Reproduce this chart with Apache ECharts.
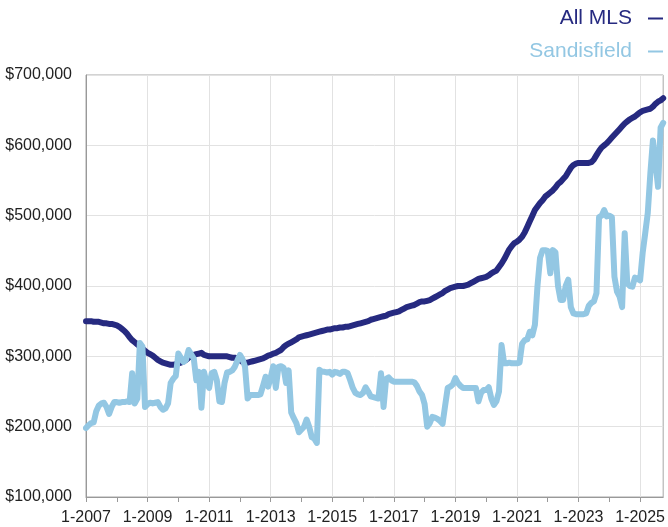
<!DOCTYPE html>
<html>
<head>
<meta charset="utf-8">
<script src="https://cdn.jsdelivr.net/npm/echarts@6/dist/echarts.min.js"></script>
<style>
html,body{margin:0;padding:0;background:#fff;}
#chart{width:668px;height:527px;}
</style>
</head>
<body>
<div id="chart"></div>
<script>
// Monthly series from Jan 2007 to Oct 2025 (values in $ thousands)
const startYear = 2007;
const monthCount = 226;

const allMLS = [
350,350,350,349,349,349,348,347,347,346,346,345,
344,342,339,336,332,327,323,320,317,314,311,308,
305,303,301,298,295,293,291,290,289,288,288,289,
290,291,293,295,298,300,302,303,304,305,302,301,
300,300,300,300,300,300,300,300,299,298,298,297,
295,292,291,291,292,293,294,295,296,297,299,301,
302,304,305,307,309,313,316,318,320,322,324,327,
328,329,330,331,332,333,334,335,336,337,338,338,
339,340,340,341,341,342,342,343,344,345,346,347,
348,349,350,352,353,354,355,356,357,358,360,361,
362,363,364,366,368,370,371,372,373,375,377,378,
378,379,380,382,384,386,388,390,393,395,397,398,
399,400,400,400,401,402,404,406,408,410,411,412,
413,415,418,420,422,427,432,438,445,452,457,461,
463,466,470,476,484,492,500,508,513,518,522,527,
530,533,536,540,545,548,552,556,562,568,572,574,
575,575,575,575,575,576,580,586,592,597,600,603,
607,611,615,619,623,627,631,634,637,639,641,644,
647,649,650,651,652,655,659,662,664,667
];

const sandisfield = [
198,202,205,206,222,230,233,234,228,218,228,235,
235,234,235,235,236,235,276,233,240,319,314,228,
232,234,233,234,235,228,224,226,233,262,268,272,
304,298,292,295,309,303,297,266,278,227,278,262,
255,276,278,266,236,235,262,277,278,280,285,294,
302,296,285,240,245,245,245,245,246,258,271,257,
270,286,255,285,286,284,262,280,220,212,205,192,
196,200,210,200,185,183,177,281,278,278,277,278,
274,278,277,275,278,278,276,266,255,248,246,245,
248,256,250,243,242,241,240,276,228,268,270,266,
264,264,264,264,264,264,264,264,263,258,250,245,
232,200,205,214,213,211,208,204,230,255,257,260,
269,262,258,255,255,255,255,255,255,236,248,252,
252,256,240,231,236,250,316,290,290,291,290,290,
290,291,318,323,324,335,330,345,400,440,451,451,
450,418,451,448,400,380,380,400,409,370,361,360,
360,360,360,361,372,376,378,390,498,500,508,499,
500,498,413,392,385,370,475,404,400,399,412,410,
408,447,475,504,560,607,575,541,625,632
];

const yTicks = [100000,200000,300000,400000,500000,600000,700000];
const seriesNames = ['All MLS','Sandisfield'];

const categories = [];
for (let i = 0; i < monthCount; i++) {
  const y = startYear + Math.floor(i / 12);
  const m = (i % 12) + 1;
  categories.push(m + '-' + y);
}

const NAVY = '#262a80';
const LIGHT = '#93c7e3';
const FONT = '"Liberation Sans", Arial, Helvetica, sans-serif';

const chart = echarts.init(document.getElementById('chart'), null, {renderer:'canvas'});
chart.setOption({
  animation: false,
  backgroundColor: '#ffffff',
  textStyle: {fontFamily: FONT},
  legend: {
    orient: 'vertical',
    right: 0,
    top: 3,
    align: 'right',
    itemWidth: 15,
    itemHeight: 2,
    itemGap: 12,
    icon: 'rect',
    selectedMode: false,
    textStyle: {fontSize: 21, fontFamily: FONT, padding: [0, 11, 0, 0]},
    data: [
      {name: seriesNames[0], textStyle: {color: NAVY}},
      {name: seriesNames[1], textStyle: {color: LIGHT}}
    ]
  },
  grid: {
    left: 86, right: 0, top: 75, bottom: 30,
    show: true, borderColor: '#a6a6a6', borderWidth: 1, containLabel: false
  },
  xAxis: {
    type: 'category',
    data: categories,
    boundaryGap: false,
    axisLine: {show: true, lineStyle: {color: '#999999', width: 1}},
    axisTick: {show: true, length: 5, interval: (i) => i % 12 === 0, lineStyle: {color: '#999999'}},
    axisLabel: {
      interval: (i) => i % 24 === 0,
      fontSize: 16, color: '#222222', fontFamily: FONT, margin: 13
    },
    splitLine: {show: true, interval: (i) => i % 24 === 0 && i > 0, lineStyle: {color: '#e2e2e2', width: 1}}
  },
  yAxis: {
    type: 'value',
    min: yTicks[0],
    max: yTicks[yTicks.length - 1],
    interval: 100000,
    axisLine: {show: true, lineStyle: {color: '#999999', width: 1}},
    axisTick: {show: false},
    axisLabel: {
      fontSize: 16, color: '#222222', fontFamily: FONT, margin: 14,
      formatter: (v) => '$' + v.toLocaleString('en-US')
    },
    splitLine: {show: true, lineStyle: {color: '#e2e2e2', width: 1}}
  },
  series: [
    {
      name: seriesNames[0], type: 'line', showSymbol: false, symbol: 'none',
      data: allMLS.map(v => v * 1000),
      lineStyle: {color: NAVY, width: 6, cap: 'round', join: 'round'},
      itemStyle: {color: NAVY},
      z: 2
    },
    {
      name: seriesNames[1], type: 'line', showSymbol: false, symbol: 'none',
      data: sandisfield.map(v => v * 1000),
      lineStyle: {color: LIGHT, width: 6, cap: 'round', join: 'round'},
      itemStyle: {color: LIGHT},
      z: 3
    }
  ]
});
</script>
</body>
</html>
